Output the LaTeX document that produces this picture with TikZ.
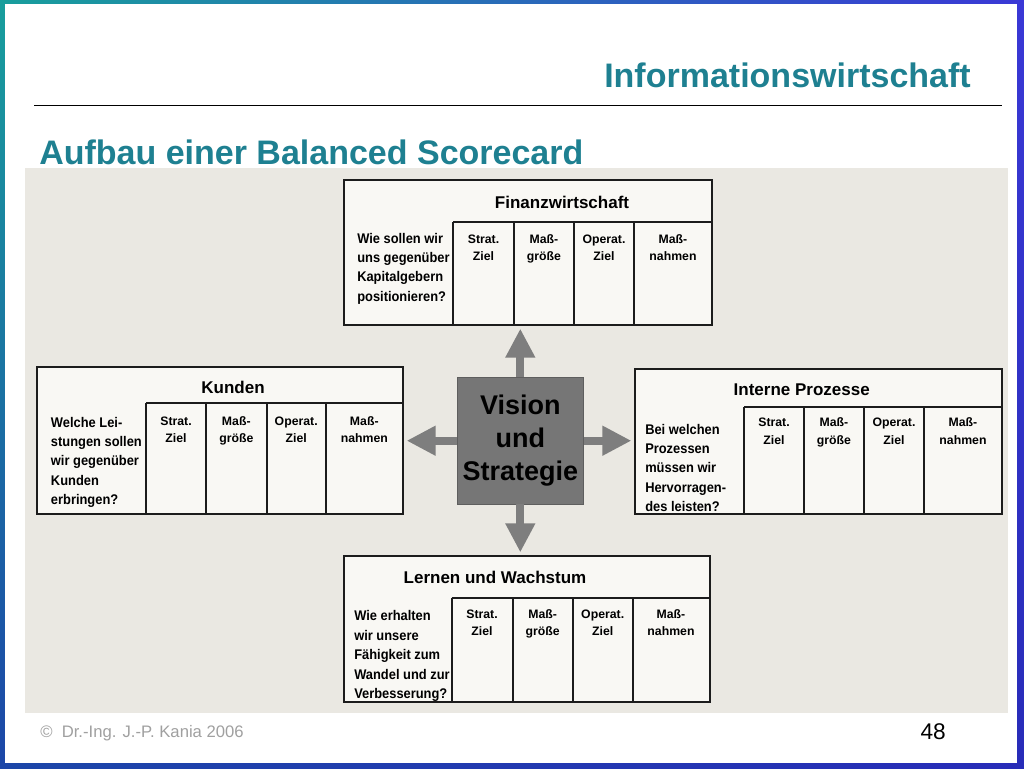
\documentclass[tikz,border=0pt]{standalone}
\usepackage{fontspec}
\setmainfont{Liberation Sans}
\newfontfamily\scanq[FakeStretch=0.92]{Liberation Sans}
\usetikzlibrary{arrows.meta,shadings}
\definecolor{frTL}{RGB}{24,158,156}
\definecolor{frTR}{RGB}{58,56,214}
\definecolor{frBL}{RGB}{28,70,168}
\definecolor{frBR}{RGB}{40,44,184}
\definecolor{headteal}{RGB}{30,128,145}
\definecolor{scanbg}{RGB}{234,232,226}
\definecolor{boxfill}{RGB}{249,248,244}
\definecolor{boxline}{RGB}{28,28,28}
\definecolor{visfill}{RGB}{118,118,118}
\definecolor{arrgray}{RGB}{126,126,126}
\definecolor{footgray}{RGB}{160,160,160}
\newcommand\twol[2]{\begin{tabular}[t]{@{}c@{}}#1\\#2\end{tabular}}
\newcommand\qlines[1]{\begin{tabular}[t]{@{}l@{}}#1\end{tabular}}
\begin{document}
\begin{tikzpicture}[x=0.75pt,y=-0.75pt,
  sbox/.style={draw=boxline, line width=1.4pt, fill=boxfill, inner sep=0pt},
  tline/.style={draw=boxline, line width=1.4pt},
  ttl/.style={anchor=base, inner sep=0pt, font=\bfseries\fontsize{12.75}{15}\selectfont},
  qst/.style={anchor=base west, inner sep=0pt, font=\scanq\bfseries\fontsize{10.5}{14.6}\selectfont},
  colh/.style={anchor=base, inner sep=0pt, font=\bfseries\fontsize{9.2}{13.3}\selectfont},
  bigarrow/.style={draw=arrgray, line width=6pt, shorten >=2pt,
    -{Triangle[length=21.75pt,width=21pt]}, arrgray}
]
\useasboundingbox (0,0) rectangle (1024,768);
% slide frame
\shade[upper left=frTL, upper right=frTR, lower left=frBL, lower right=frBR] (0,0) rectangle (1024,768);
\fill[white] (5,4) rectangle (1017,763);
% header
\node[anchor=base east, inner sep=0pt, text=headteal, font=\bfseries\fontsize{25.5}{30}\selectfont] (head) at (971,87) {Informationswirtschaft};
\draw[line width=1.2pt, black] (34,105.5) -- (1002,105.5);
\node[anchor=base west, inner sep=0pt, text=headteal, font=\bfseries\fontsize{25.5}{30}\selectfont] (title) at (39,164) {Aufbau einer Balanced Scorecard};
% scanned area
\fill[scanbg] (25,168) rectangle (1008,713);

% Finanzwirtschaft
\node[sbox, minimum width=276pt, minimum height=108.75pt] (fin) at (528,252.5) {};
\draw[tline] (453,221.7) -- (fin.east |- 0,221.7);
\foreach \x in {453,514,574,634} \draw[tline] (\x,221.7) -- (\x,325);
\node[ttl] (fint) at (562,208) {Finanzwirtschaft};
\node[qst] (finq) at (357,243) {\qlines{Wie sollen wir\\uns gegenüber\\Kapitalgebern\\positionieren?}};
\node[colh] (fin1) at (483.5,243) {\twol{Strat.}{Ziel}};
\node[colh] (fin2) at (544,243) {\twol{Maß-}{größe}};
\node[colh] (fin3) at (604,243) {\twol{Operat.}{Ziel}};
\node[colh] (fin4) at (673,243) {\twol{Maß-}{nahmen}};

% Kunden
\node[sbox, minimum width=274.5pt, minimum height=110.25pt] (kun) at (220,440.5) {};
\draw[tline] (146,403.3) -- (kun.east |- 0,403.3);
\foreach \x in {146,206,266.7,325.7} \draw[tline] (\x,403.3) -- (\x,514);
\node[ttl] (kunt) at (233,393.5) {Kunden};
\node[qst] (kunq) at (50.7,427) {\qlines{Welche Lei-\\stungen sollen\\wir gegenüber\\Kunden\\erbringen?}};
\node[colh] (kun1) at (176,425) {\twol{Strat.}{Ziel}};
\node[colh] (kun2) at (236.3,425) {\twol{Maß-}{größe}};
\node[colh] (kun3) at (296.2,425) {\twol{Operat.}{Ziel}};
\node[colh] (kun4) at (364.3,425) {\twol{Maß-}{nahmen}};

% Interne Prozesse
\node[sbox, minimum width=275.25pt, minimum height=108.75pt] (int) at (818.5,441.5) {};
\draw[tline] (744,406.7) -- (int.east |- 0,406.7);
\foreach \x in {744,804,864.3,924.3} \draw[tline] (\x,406.7) -- (\x,514);
\node[ttl] (intt) at (801.7,395) {Interne Prozesse};
\node[qst] (intq) at (645,434) {\qlines{Bei welchen\\Prozessen\\müssen wir\\Hervorragen-\\des leisten?}};
\node[colh] (int1) at (774,426.7) {\twol{Strat.}{Ziel}};
\node[colh] (int2) at (834,426.7) {\twol{Maß-}{größe}};
\node[colh] (int3) at (894,426.7) {\twol{Operat.}{Ziel}};
\node[colh] (int4) at (963,426.7) {\twol{Maß-}{nahmen}};

% Lernen und Wachstum
\node[sbox, minimum width=274.5pt, minimum height=109.5pt] (lern) at (527,629) {};
\draw[tline] (451.7,598.3) -- (lern.east |- 0,598.3);
\foreach \x in {451.7,512.7,572.7,632.7} \draw[tline] (\x,598.3) -- (\x,702);
\node[ttl] (lernt) at (495,583) {Lernen und Wachstum};
\node[qst] (lernq) at (354,620.7) {\qlines{Wie erhalten\\wir unsere\\Fähigkeit zum\\Wandel und zur\\Verbesserung?}};
\node[colh] (lern1) at (482,618) {\twol{Strat.}{Ziel}};
\node[colh] (lern2) at (542.7,618) {\twol{Maß-}{größe}};
\node[colh] (lern3) at (602.7,618) {\twol{Operat.}{Ziel}};
\node[colh] (lern4) at (671,618) {\twol{Maß-}{nahmen}};

% Vision und Strategie
\node[fill=visfill, draw=visfill!80!black, line width=0.6pt, minimum width=94.5pt, minimum height=95pt, inner sep=0pt,
  font=\bfseries\fontsize{20.25}{24.75}\selectfont, text=black] (vis) at (520.3,440.7)
  {\begin{tabular}{@{}c@{}}Vision\\und\\Strategie\end{tabular}};

% arrows
\draw[bigarrow] (vis.north) -- (vis.north |- fin.south);
\draw[bigarrow] (vis.south) -- (vis.south |- lern.north);
\draw[bigarrow] (vis.west) -- (vis.west -| kun.east);
\draw[bigarrow] (vis.east) -- (vis.east -| int.west);

% footer
\node[anchor=base west, inner sep=0pt, text=footgray, font=\fontsize{12.5}{15}\selectfont] (foot) at (40,737) {©\ \ Dr.-Ing. J.-P. Kania 2006};
\node[anchor=base east, inner sep=0pt, text=black, font=\fontsize{17}{20}\selectfont] (page) at (946,739) {48};
\end{tikzpicture}
\end{document}
